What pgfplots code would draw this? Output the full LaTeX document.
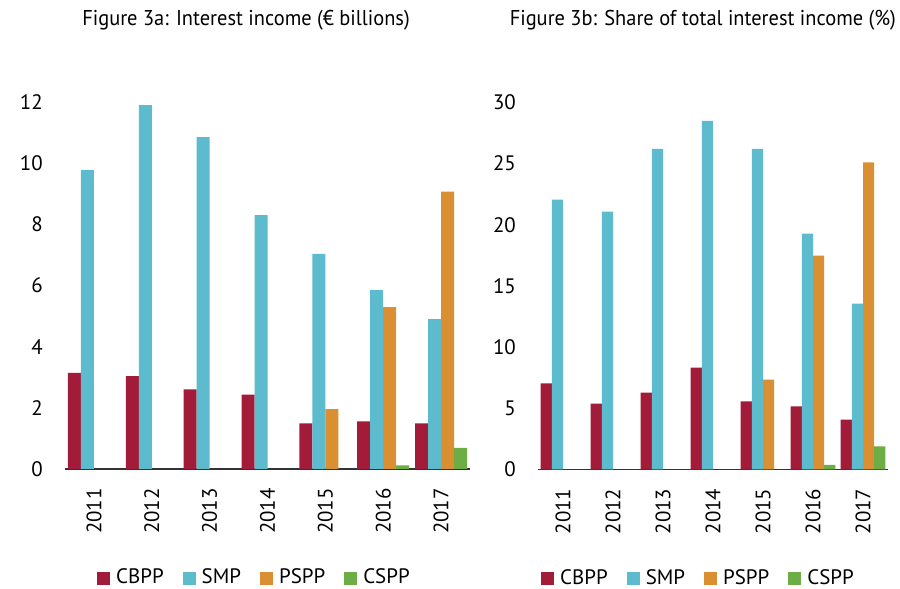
\documentclass[border=0pt]{standalone}
\usepackage{pgfplots}
\pgfplotsset{compat=1.18}
\usepackage{fontspec}
\setmainfont{PT Sans}
\newfontfamily\titlefont[FakeStretch=0.953]{PT Sans}
\definecolor{cbpp}{HTML}{A21C3A}
\definecolor{smp}{HTML}{5CBCCE}
\definecolor{pspp}{HTML}{DB8F33}
\definecolor{cspp}{HTML}{6DAD45}
\pgfplotsset{
  ecb/.style={
    scale only axis,
    anchor=south west,
    ybar=0pt,
    xmin=-0.5, xmax=6.5,
    ymin=0,
    height=367bp,
    xtick={0,...,6},
    xticklabels={2011,2012,2013,2014,2015,2016,2017},
    axis x line*=bottom,
    axis y line*=left,
    x axis line style={draw=black!80, line width=1.5bp, -},
    y axis line style={draw=none},
    major tick length=0pt,
    tick style={draw=none},
    /pgf/number format/assume math mode=true,
    tick label style={font=\fontsize{21}{24}\selectfont},
    yticklabel style={anchor=east, inner sep=0pt, xshift=-22bp},
    xticklabel style={yshift=-19bp, rotate=90, anchor=east, inner sep=0pt},
    title style={font=\titlefont\fontsize{21.5}{24}\selectfont, anchor=base, inner sep=0pt},
    legend columns=4,
    legend style={draw=none, fill=none, inner sep=0pt, anchor=west,
      font=\fontsize{21}{24}\selectfont,
      column sep=6bp,
      nodes={inner sep=0pt, anchor=base west},
      /tikz/every even column/.append style={column sep=19bp}},
    legend image code/.code={\fill[##1,draw=none] (0bp,-1bp) rectangle (13bp,12bp);},
  }
}
\begin{document}
\begin{tikzpicture}
\useasboundingbox (0,0) rectangle (900bp,589bp);
\begin{axis}[ecb,
  at={(65bp,120bp)}, width=405bp, ymax=12,
  bar width=13bp,
  ytick={0,2,4,6,8,10,12},
  title={Figure 3a: Interest income (€ billions)},
  title style={at={(axis description cs:0.447,1.1935)}},
  legend style={at={(axis description cs:0.079,-0.294)}},
]
\addplot[fill=cbpp, draw=none] coordinates {(0,3.14) (1,3.04) (2,2.60) (3,2.43) (4,1.49) (5,1.56) (6,1.49)};
\addplot[fill=smp, draw=none] coordinates {(0,9.77) (1,11.9) (2,10.85) (3,8.30) (4,7.03) (5,5.85) (6,4.90)};
\addplot[fill=pspp, draw=none] coordinates {(4,1.96) (5,5.29) (6,9.07)};
\addplot[fill=cspp, draw=none] coordinates {(5,0.12) (6,0.69)};
\legend{CBPP,SMP,PSPP,CSPP}
\end{axis}
\begin{axis}[ecb,
  at={(538bp,119.5bp)}, width=350bp, ymax=30,
  bar width=11.2bp,
  ytick={0,5,10,15,20,25,30},
  title={Figure 3b: Share of total interest income (\%)},
  title style={at={(axis description cs:0.471,1.1935)}},
  legend style={at={(axis description cs:0.0086,-0.294)}},
]
\addplot[fill=cbpp, draw=none] coordinates {(0,7.05) (1,5.39) (2,6.29) (3,8.33) (4,5.56) (5,5.15) (6,4.08)};
\addplot[fill=smp, draw=none] coordinates {(0,22.06) (1,21.08) (2,26.2) (3,28.5) (4,26.2) (5,19.28) (6,13.56)};
\addplot[fill=pspp, draw=none] coordinates {(4,7.35) (5,17.48) (6,25.1)};
\addplot[fill=cspp, draw=none] coordinates {(5,0.37) (6,1.9)};
\legend{CBPP,SMP,PSPP,CSPP}
\end{axis}
\end{tikzpicture}
\end{document}
